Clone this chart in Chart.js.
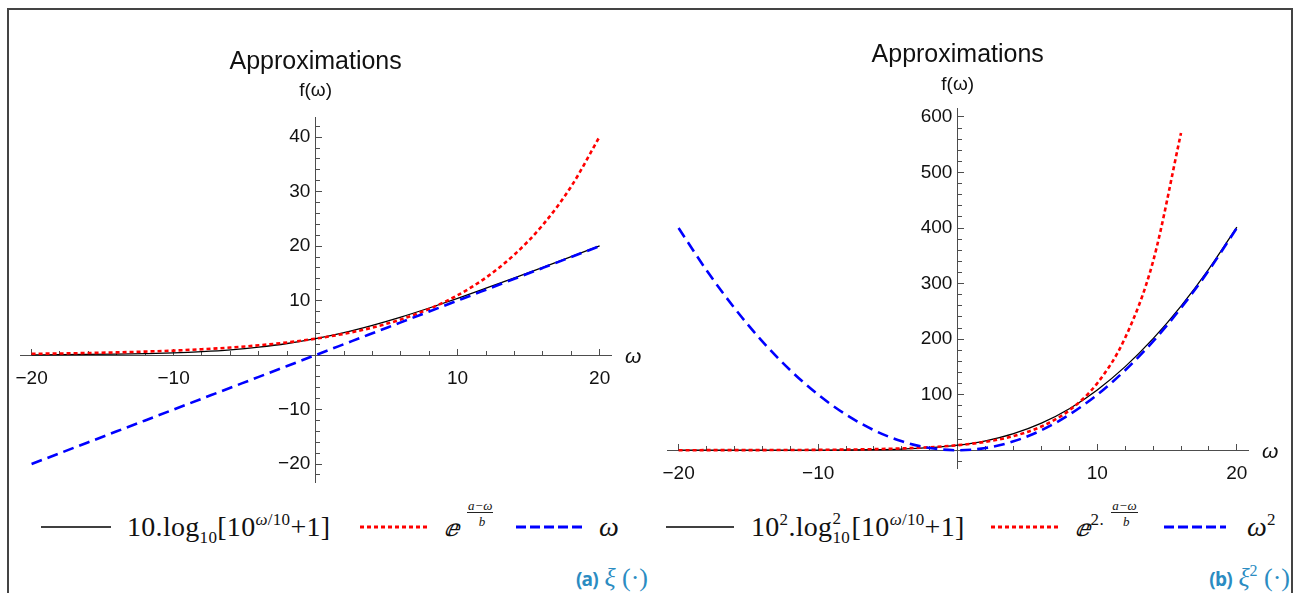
<!DOCTYPE html>
<html>
<head>
<meta charset="utf-8">
<script src="https://cdn.jsdelivr.net/npm/chart.js@4"></script>
<style>
  html, body { margin: 0; padding: 0; background: #fff; }
  body { width: 1293px; height: 593px; position: relative; overflow: hidden; }
  .frame { position: absolute; left: 7px; top: 8px; width: 1282px; height: 620px; border: 2px solid #444; border-bottom: none; }
  .panel { position: absolute; }
  .sw { position: absolute; }
  .lg { position: absolute; top: 513px; font-family: "Liberation Serif", "Times New Roman", serif; font-size: 28px; line-height: 28px; letter-spacing: 0.3px; color: #111; white-space: nowrap; }
  .lg .up { position: relative; top: -11px; font-size: 17px; }
  .lg .dn { position: relative; top: 7px; font-size: 17px; }
  .lg i { font-style: italic; }
  .stack { display: inline-block; position: relative; width: 19px; height: 0; }
  .stack .hi { position: absolute; left: 0; bottom: 9px; font-size: 17px; line-height: 17px; }
  .stack .lo { position: absolute; left: 0; top: -7px; font-size: 17px; line-height: 17px; }
  .frac { display: inline-block; position: relative; width: 30px; height: 0; font-style: italic; letter-spacing: 0; }
  .frac .num { position: absolute; left: 0; bottom: 23px; font-size: 13px; line-height: 13px; border-bottom: 1px solid #222; padding: 0 1px; white-space: nowrap; }
  .frac .den { position: absolute; left: 0; width: 100%; top: -21px; font-size: 13px; line-height: 13px; text-align: center; }
  .ee { font-family: "DejaVu Serif", serif; font-style: italic; font-size: 24px; }
  .cap { position: absolute; top: 563px; color: #2b8cc2; white-space: nowrap; font-size: 26px; font-family: "Liberation Serif", serif; }
  .cap b { font-family: "Open Sans", sans-serif; font-size: 19px; letter-spacing: -0.8px; }
  .cap i { font-style: italic; }
</style>
</head>
<body>
<div class="frame"></div>

<div class="panel" style="left:-4px; top:45px; width:649px; height:449px;"><canvas id="chartA"></canvas></div>
<div class="panel" style="left:643px; top:30px; width:650px; height:450px;"><canvas id="chartB"></canvas></div>

<!-- legend, panel (a) -->
<svg class="sw" style="left:41px; top:522px" width="70" height="10"><line x1="0" y1="5" x2="70" y2="5" stroke="#000" stroke-width="1.5"/></svg>
<div class="lg" style="left:127px">10.log<span class="dn">10</span>[10<span class="up"><i>ω</i>/10</span>+1]</div>
<svg class="sw" style="left:360px; top:522px" width="68" height="10"><line x1="0" y1="5" x2="68" y2="5" stroke="#f00" stroke-width="3" stroke-dasharray="4 3"/></svg>
<div class="lg" style="left:444px"><span class="ee">ⅇ</span> <span class="frac"><span class="num">a−ω</span><span class="den">b</span></span></div>
<svg class="sw" style="left:516px; top:522px" width="68" height="10"><line x1="0" y1="5" x2="68" y2="5" stroke="#00f" stroke-width="3" stroke-dasharray="10 4"/></svg>
<div class="lg" style="left:599px"><i>ω</i></div>

<!-- legend, panel (b) -->
<svg class="sw" style="left:666px; top:522px" width="68" height="10"><line x1="0" y1="5" x2="68" y2="5" stroke="#000" stroke-width="1.5"/></svg>
<div class="lg" style="left:751px">10<span class="up">2</span>.log<span class="stack"><span class="hi">2</span><span class="lo">10</span></span>[10<span class="up"><i>ω</i>/10</span>+1]</div>
<svg class="sw" style="left:991px; top:522px" width="68" height="10"><line x1="0" y1="5" x2="68" y2="5" stroke="#f00" stroke-width="3" stroke-dasharray="4 3"/></svg>
<div class="lg" style="left:1075px"><span class="ee">ⅇ</span><span class="up">2.</span> <span class="frac"><span class="num">a−ω</span><span class="den">b</span></span></div>
<svg class="sw" style="left:1164px; top:522px" width="62" height="10"><line x1="0" y1="5" x2="62" y2="5" stroke="#00f" stroke-width="3" stroke-dasharray="10 4"/></svg>
<div class="lg" style="left:1247px"><i>ω</i><span class="up">2</span></div>

<div class="cap" style="right:645px"><b>(a)</b> <i>ξ</i> (·)</div>
<div class="cap" style="right:3px"><b>(b)</b> <i>ξ</i><span style="position:relative;top:-10px;font-size:16px">2</span> (·)</div>

<script>
// sample points along ω
const omega = [-20, -18, -16, -14, -12, -10, -8, -6, -4, -2, 0, 2, 4, 6, 8, 10, 12, 14, 16, 18, 20];

// panel (a): first-order curves
const softplus = [0.04, 0.07, 0.11, 0.17, 0.27, 0.41, 0.64, 0.97, 1.46, 2.12, 3.01, 4.12, 5.46, 6.97, 8.64, 10.41, 12.27, 14.17, 16.11, 18.07, 20.04];
const expFit = [0.23, 0.29, 0.38, 0.49, 0.64, 0.82, 1.07, 1.38, 1.79, 2.32, 3.01, 3.90, 5.05, 6.54, 8.48, 10.98, 14.23, 18.44, 23.89, 30.96, 40.11];
const identity = [-20, -18, -16, -14, -12, -10, -8, -6, -4, -2, 0, 2, 4, 6, 8, 10, 12, 14, 16, 18, 20];

// panel (b): squared curves (the exp curve leaves the plot range after ω = 16)
const softplusSq = [0.00, 0.00, 0.01, 0.03, 0.07, 0.17, 0.41, 0.95, 2.12, 4.52, 9.06, 17.02, 29.76, 48.62, 74.63, 108.45, 150.45, 200.78, 259.47, 326.50, 401.72];
const expFitSq = [0.05, 0.09, 0.14, 0.24, 0.40, 0.68, 1.14, 1.91, 3.21, 5.39, 9.04, 15.18, 25.49, 42.80, 71.85, 120.6, 202.5, 340.0, 570.9];
const squared = [400, 324, 256, 196, 144, 100, 64, 36, 16, 4, 0, 4, 16, 36, 64, 100, 144, 196, 256, 324, 400];

const axisColor = '#4d4d4d';
const labelFont = { family: '"Liberation Sans", Arial, sans-serif', size: 19 };

function tickText(v) {
    if (v === 0) return '';
    return v < 0 ? '\u2212' + Math.abs(v) : String(v);
}

function points(ys) {
    return ys.map((y, i) => ({ x: omega[i], y: y }));
}

// Mathematica-style axes crossing at the origin, long major ticks + short minor ones
function originAxes(xRange, yRange, yMajor, yMinor) {
    const tickGrid = (len) => ({ drawOnChartArea: false, tickLength: len, tickColor: axisColor, tickWidth: 1 });
    return {
        x: {
            type: 'linear', min: xRange[0], max: xRange[1], position: { y: 0 },
            border: { color: axisColor, width: 1 },
            grid: tickGrid(-7),
            ticks: { stepSize: 10, includeBounds: false, autoSkip: false, maxRotation: 0, padding: 19, color: '#111', font: labelFont, callback: tickText }
        },
        xMinor: {
            type: 'linear', min: xRange[0], max: xRange[1], position: { y: 0 },
            border: { display: false },
            grid: tickGrid(-4),
            ticks: { stepSize: 2, includeBounds: false, autoSkip: false, maxRotation: 0, padding: 0, callback: () => '' }
        },
        y: {
            type: 'linear', min: yRange[0], max: yRange[1], position: { x: 0 },
            border: { color: axisColor, width: 1 },
            grid: tickGrid(-7),
            // labels sit right-aligned on the axis, the trailing space keeps them off it
            ticks: { stepSize: yMajor, includeBounds: false, autoSkip: false, padding: 0, color: '#111', font: labelFont,
                     callback: (v) => v === 0 ? '' : tickText(v) + ' ' }
        },
        yMinor: {
            type: 'linear', min: yRange[0], max: yRange[1], position: { x: 0 },
            border: { display: false },
            grid: tickGrid(-4),
            ticks: { stepSize: yMinor, includeBounds: false, autoSkip: false, padding: 0, callback: () => '' }
        }
    };
}

// ω at the right end of the horizontal axis
const omegaLabel = {
    id: 'omegaLabel',
    afterDraw(chart) {
        const { ctx, chartArea, scales } = chart;
        ctx.save();
        ctx.font = 'italic 21px "Liberation Sans", Arial, sans-serif';
        ctx.fillStyle = '#111';
        ctx.textBaseline = 'middle';
        ctx.fillText('ω', chartArea.right + 14, scales.y.getPixelForValue(0) + 2);
        ctx.restore();
    }
};

function curve(data, color, width, dash, order) {
    return {
        data: data, borderColor: color, borderWidth: width, borderDash: dash,
        pointRadius: 0, fill: false, cubicInterpolationMode: 'monotone', order: order
    };
}

function makeChart(id, datasets, scales, padding, titlePad, subPad) {
    return new Chart(document.getElementById(id), {
        type: 'line',
        data: { datasets: datasets },
        options: {
            responsive: true,
            maintainAspectRatio: false,
            animation: false,
            layout: { padding: padding },
            scales: scales,
            plugins: {
                legend: { display: false },
                tooltip: { enabled: false },
                title: {
                    display: true, text: 'Approximations', fullSize: false, color: '#111',
                    font: { family: '"Liberation Sans", Arial, sans-serif', size: 25, weight: 'normal' },
                    padding: titlePad
                },
                subtitle: {
                    display: true, text: 'f(ω)', fullSize: false, color: '#111',
                    font: { family: '"Liberation Sans", Arial, sans-serif', size: 19 },
                    padding: subPad
                }
            }
        },
        plugins: [omegaLabel]
    });
}

makeChart('chartA', [
    curve(points(softplus), '#000', 1.3, [], 3),
    curve(points(expFit), '#f00', 2.6, [4, 3], 2),
    curve(points(identity), '#00f', 2.6, [11, 6], 1)
], originAxes([-20.8, 20.8], [-23.3, 43.7], 10, 2),
   { left: 20, right: 34, top: 0, bottom: 12 },
   { top: 2, bottom: 2 }, { top: 0, bottom: 15.2 });

makeChart('chartB', [
    curve(points(softplusSq), '#000', 1.3, [], 3),
    curve(points(expFitSq), '#f00', 2.6, [4, 3], 2),
    curve(points(squared), '#00f', 2.6, [11, 6], 1)
], originAxes([-20.8, 20.8], [-32, 616], 100, 20),
   { left: 22, right: 45, top: 0, bottom: 12 },
   { top: 10, bottom: 2 }, { top: 1.8, bottom: 11.4 });
</script>
</body>
</html>
